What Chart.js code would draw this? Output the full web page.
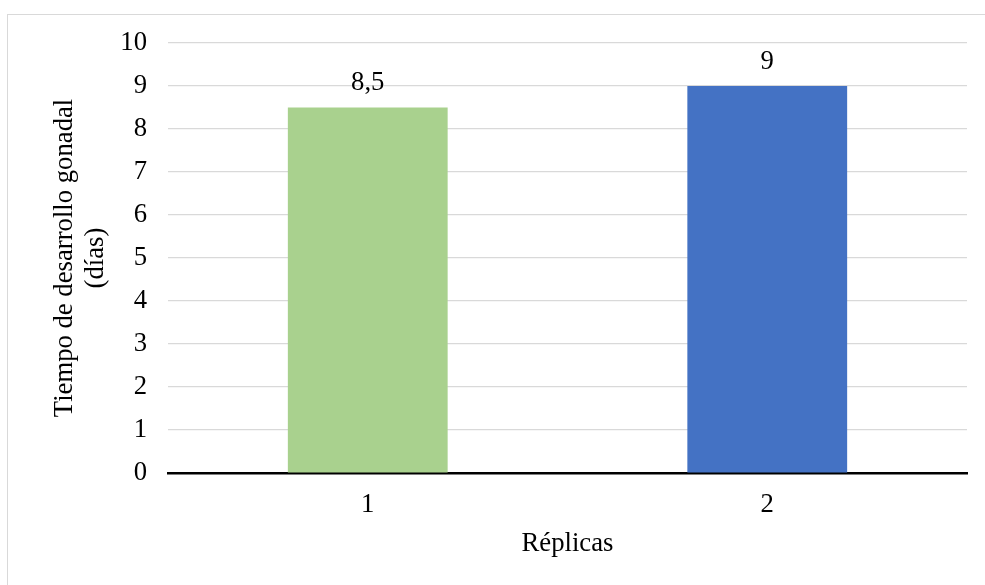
<!DOCTYPE html>
<html>
<head>
<meta charset="utf-8">
<script src="https://cdn.jsdelivr.net/npm/chart.js@4.4.1/dist/chart.umd.min.js"></script>
<style>
  html, body { margin: 0; padding: 0; background: #fff; overflow: hidden; }
  #frame { position: absolute; left: 7px; top: 14px; width: 1000px; height: 600px;
           border-top: 1px solid #d9d9d9; border-left: 1px solid #d9d9d9; }
  #chart { position: absolute; left: 0; top: 0; }
</style>
</head>
<body>
<div id="frame"></div>
<canvas id="chart" width="985" height="585"></canvas>
<script>
var categories = ['1', '2'];
var values = [8.5, 9];
var barColors = ['#A9D18E', '#4472C4'];
var yTicks = [0, 1, 2, 3, 4, 5, 6, 7, 8, 9, 10];
var xTitle = 'Réplicas';
var yTitle = ['Tiempo de desarrollo gonadal', '(días)'];

var serif = 'Liberation Serif, "Times New Roman", serif';
var fontSize = 26.7;

// etiquetas de valor sobre cada barra
var valueLabels = {
	id: 'valueLabels',
	afterDatasetsDraw: function(chart) {
		var ctx = chart.ctx;
		var meta = chart.getDatasetMeta(0);
		ctx.save();
		ctx.font = fontSize + 'px ' + serif;
		ctx.fillStyle = '#000';
		ctx.textAlign = 'center';
		ctx.textBaseline = 'alphabetic';
		meta.data.forEach(function(bar, i) {
			var txt = String(values[i]).replace('.', ',');
			ctx.fillText(txt, bar.x, bar.y - 17.5);
		});
		ctx.restore();
	}
};

Chart.defaults.font.family = serif;
Chart.defaults.font.size = fontSize;
Chart.defaults.color = '#000';

var myChart = new Chart(document.getElementById('chart'), {
	type: 'bar',
	data: {
		labels: categories,
		datasets: [{
			data: values,
			backgroundColor: barColors,
			borderWidth: 0,
			barPercentage: 0.4,
			categoryPercentage: 1
		}]
	},
	options: {
		responsive: false,
		animation: false,
		layout: { padding: { left: 0, top: 43, right: 18, bottom: 0 } },
		plugins: {
			legend: { display: false },
			tooltip: { enabled: false }
		},
		scales: {
			x: {
				grid: { display: false, drawTicks: false },
				border: { display: true, color: '#000', width: 2.5 },
				ticks: { padding: 16, font: { size: fontSize } },
				title: {
					display: true,
					text: xTitle,
					font: { size: fontSize },
					padding: { top: 0, bottom: 25 }
				},
				afterFit: function(scale) { scale.height = 112; }
			},
			y: {
				min: 0,
				max: 10,
				afterBuildTicks: function(scale) {
					scale.ticks = yTicks.map(function(v) { return { value: v }; });
				},
				grid: { color: '#d9d9d9', lineWidth: 1.2, drawTicks: false },
				border: { display: false },
				ticks: { padding: 21, font: { size: fontSize } },
				title: {
					display: true,
					text: yTitle,
					font: { size: fontSize, lineHeight: 1.15 },
					padding: { top: 50, bottom: 0 }
				},
				afterFit: function(scale) { scale.width = 168; }
			}
		}
	},
	plugins: [valueLabels]
});
</script>
</body>
</html>
